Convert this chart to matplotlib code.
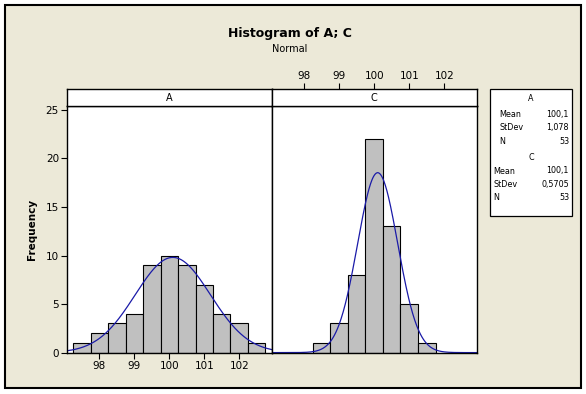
import numpy as np
import matplotlib
matplotlib.use("Agg")
import matplotlib.pyplot as plt
from matplotlib.patches import Rectangle

plt.rcParams['font.family'] = ['DejaVu Sans']

# ---- data ----
bin_centers_A = [97.5, 98.0, 98.5, 99.0, 99.5, 100.0, 100.5, 101.0, 101.5, 102.0, 102.5]
counts_A = [1, 2, 3, 4, 9, 10, 9, 7, 4, 3, 1]
bin_centers_C = [98.5, 99.0, 99.5, 100.0, 100.5, 101.0, 101.5]
counts_C = [1, 3, 8, 22, 13, 5, 1]
bin_width = 0.5
stats_A = {"Mean": 100.1, "StDev": 1.078, "N": 53}
stats_C = {"Mean": 100.1, "StDev": 0.5705, "N": 53}
stat_labels_A = ["100,1", "1,078", "53"]
stat_labels_C = ["100,1", "0,5705", "53"]
x_ticks = [98, 99, 100, 101, 102]
y_ticks = [0, 5, 10, 15, 20, 25]

W, H = 586, 394
BG = '#ECE9D8'
fig = plt.figure(figsize=(W / 100, H / 100), dpi=100, facecolor='white')

def fx(px):
    return px / W

def fy(py):
    return 1 - py / H

# outer beige frame
fig.patches.append(Rectangle((fx(5), fy(388)), fx(581) - fx(5), fy(5) - fy(388),
                             transform=fig.transFigure, facecolor=BG,
                             edgecolor='black', linewidth=1.5, zorder=-10))

xlim = (97.08, 102.93)
ylim = (0, 25.4)
top_px, bot_px = 106, 352.6
strip_top = 89.3
panels = [(67.3, 271.7, 'A', bin_centers_A, counts_A, stats_A),
          (271.7, 477.0, 'C', bin_centers_C, counts_C, stats_C)]

axes = []
for i, (l, r, name, centers, counts, st) in enumerate(panels):
    ax = fig.add_axes([fx(l), fy(bot_px), fx(r) - fx(l), fy(top_px) - fy(bot_px)])
    ax.set_facecolor('white')
    ax.bar(centers, counts, width=bin_width, color='#C0C0C0', edgecolor='black',
           linewidth=0.8, zorder=2)
    xs = np.linspace(xlim[0], xlim[1], 400)
    mu, sd, n = st["Mean"], st["StDev"], st["N"]
    ys = n * bin_width / (sd * np.sqrt(2 * np.pi)) * np.exp(-0.5 * ((xs - mu) / sd) ** 2)
    ax.plot(xs, ys, color='#1A1AA8', linewidth=0.9, zorder=2.2)
    ax.set_xlim(*xlim)
    ax.set_ylim(*ylim)
    for s in ax.spines.values():
        s.set_linewidth(1.0)
    ax.tick_params(direction='out', length=4, width=0.8, labelsize=7.5, pad=2)
    if i == 0:
        ax.set_xticks(x_ticks)
        ax.set_yticks(y_ticks)
        ax.set_ylabel('Frequency', fontsize=7.5, fontweight='bold', labelpad=6)
    else:
        ax.set_yticks([])
        ax.set_xticks([])
    # strip
    sax = fig.add_axes([fx(l), fy(top_px), fx(r) - fx(l), fy(strip_top) - fy(top_px)])
    sax.set_facecolor('white')
    sax.set_xlim(*xlim)
    sax.set_yticks([])
    for s in sax.spines.values():
        s.set_linewidth(1.0)
    sax.text(0.5, 0.45, name, transform=sax.transAxes, ha='center', va='center',
             fontsize=7)
    if i == 1:
        sax.xaxis.set_ticks_position('top')
        sax.set_xticks(x_ticks)
        sax.tick_params(axis='x', direction='out', length=4, width=0.8,
                        labelsize=7.5, pad=2)
    else:
        sax.set_xticks([])
    axes.append(ax)

# titles
fig.text(fx(290), fy(33), 'Histogram of A; C', ha='center', va='center',
         fontsize=9, fontweight='bold')
fig.text(fx(290), fy(48.5), 'Normal', ha='center', va='center', fontsize=7)

# legend box
fig.patches.append(Rectangle((fx(490), fy(216)), fx(571.5) - fx(490), fy(89) - fy(216),
                             transform=fig.transFigure, facecolor='white',
                             edgecolor='black', linewidth=0.9, zorder=1))
fs = 5.8
rows = [
    ('A', None, 98.3, None),
    ('Mean', stat_labels_A[0], 114.3, 499),
    ('StDev', stat_labels_A[1], 127.7, 499),
    ('N', stat_labels_A[2], 141.5, 499),
    ('C', None, 157.3, None),
    ('Mean', stat_labels_C[0], 171, 493.5),
    ('StDev', stat_labels_C[1], 184.3, 493.5),
    ('N', stat_labels_C[2], 198, 493.5),
]
for lab, val, y, xl in rows:
    if val is None:
        fig.text(fx(531), fy(y), lab, ha='center', va='center', fontsize=fs)
    else:
        fig.text(fx(xl), fy(y), lab, ha='left', va='center', fontsize=fs)
        fig.text(fx(569), fy(y), val, ha='right', va='center', fontsize=fs)

fig.savefig('out.png', dpi=100, facecolor='white')
